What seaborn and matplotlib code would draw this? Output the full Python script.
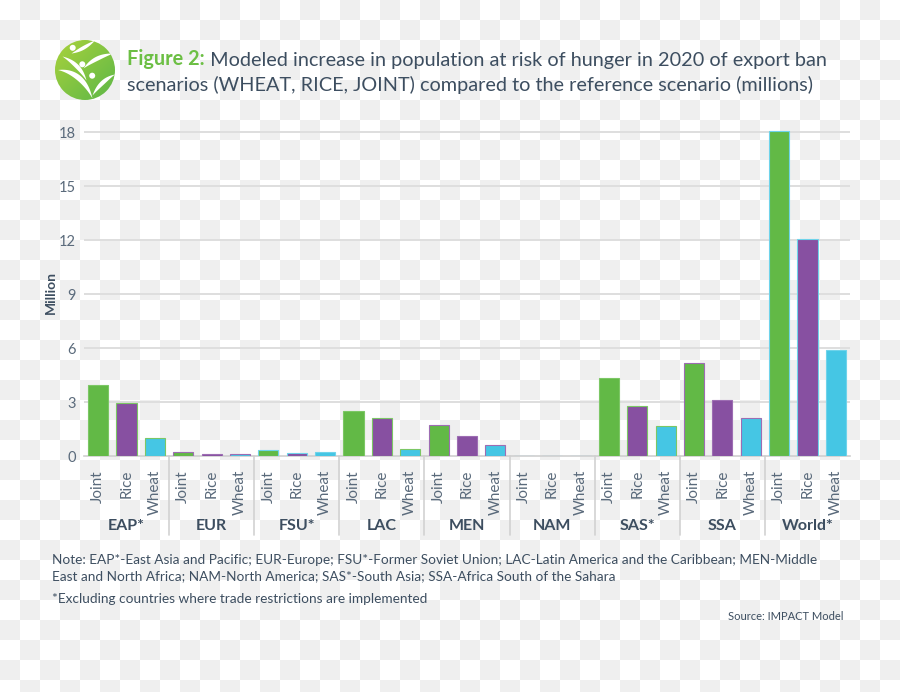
import matplotlib.pyplot as plt
import matplotlib.patches as mpatches
import matplotlib.transforms as mtransforms
from matplotlib.colors import LinearSegmentedColormap
import numpy as np
import pandas as pd
import seaborn as sns

REGIONS = ["EAP*", "EUR", "FSU*", "LAC", "MEN", "NAM", "SAS*", "SSA", "World*"]
SCENARIOS = ["Joint", "Rice", "Wheat"]
JOINT = [3.95, 0.22, 0.32, 2.48, 1.70, 0.0, 4.36, 5.19, 18.04]
RICE = [2.94, 0.13, 0.17, 2.10, 1.10, 0.0, 2.76, 3.09, 12.06]
WHEAT = [1.00, 0.10, 0.20, 0.37, 0.60, 0.0, 1.65, 2.09, 5.87]
Y_TICKS = [0, 3, 6, 9, 12, 15, 18]

COLORS = {"Joint": "#62b946", "Rice": "#8750a1", "Wheat": "#45c6e4"}
EDGES = {"Joint": "#7cc765", "Rice": "#9d6db3", "Wheat": "#6fd3ea"}
DARK = "#3d4e60"
MID = "#5a6a7b"

rows = []
for i, region in enumerate(REGIONS):
    for scen, vals in zip(SCENARIOS, [JOINT, RICE, WHEAT]):
        rows.append({"region": region, "scenario": scen,
                     "slot": f"{region}|{scen}", "value": vals[i]})
df = pd.DataFrame(rows)

sns.set_theme(style="white")
plt.rcParams["font.family"] = ["Lato", "DejaVu Sans"]

W, H = 900, 692
fig = plt.figure(figsize=(W / 100, H / 100), dpi=100)

# transparency checkerboard behind everything
yy, xx = np.mgrid[0:H, 0:W]
checker = np.where(((xx // 20) + (yy // 20)) % 2 == 1, 0xef, 0xff) / 255.0
fig.figimage(np.dstack([checker] * 3), xo=0, yo=0, origin="upper", zorder=-10)

y_top = 18.2
px_per = 18.0
ax_h = y_top * px_per
ax_w = 850 - 84
ax = fig.add_axes([84 / W, (H - 456) / H, ax_w / W, ax_h / H])
ax.set_facecolor("none")

sns.barplot(data=df, x="slot", y="value", hue="scenario", palette=COLORS,
            order=df["slot"], dodge=False, width=0.71, legend=False,
            saturation=1, linewidth=0.8, ax=ax, zorder=3)
for bar, scen in zip(ax.patches, df["scenario"]):
    bar.set_edgecolor(EDGES[scen])

ax.set_xlim(-0.5, len(df) - 0.5)
ax.set_ylim(0, y_top)
ax.set_yticks(Y_TICKS)
ax.set_yticklabels([str(t) for t in Y_TICKS], fontsize=10.5, color=MID)
ax.set_xticks(range(len(df)))
ax.set_xticklabels(df["scenario"], rotation=90, fontsize=11, color=MID)
ax.tick_params(axis="x", length=0, pad=10)
ax.tick_params(axis="y", length=0, pad=6)
ax.set_xlabel("")
ax.set_ylabel("Million", fontsize=10, fontweight="bold", color=DARK)
ax.yaxis.set_label_coords(-(84 - 57) / ax_w, 0.5)

for t in Y_TICKS[1:]:
    ax.axhline(t, color="#dedede", lw=1.4, zorder=1)
for side in ["top", "right", "left"]:
    ax.spines[side].set_visible(False)
ax.spines["bottom"].set_color("#cfcfcf")
ax.spines["bottom"].set_linewidth(1.2)

# region group labels and separators below the axis
trans = mtransforms.blended_transform_factory(ax.transData, ax.transAxes)
label_trans = trans + mtransforms.ScaledTranslation(0, -0.70, fig.dpi_scale_trans)
sep_len = 79 / ax_h
for g, region in enumerate(REGIONS):
    ax.text(3 * g + 1, 0, region, transform=label_trans, ha="center",
            va="center", fontsize=11.5, fontweight="bold", color=DARK)
    if g > 0:
        ax.plot([3 * g - 0.5] * 2, [0, -sep_len], transform=trans,
                color="#d2d2d2", lw=1.2, clip_on=False)

# title
t1 = fig.text(127 / W, 1 - 65 / H, "Figure 2:", fontsize=14.3,
              fontweight="bold", color="#6cbf44", va="baseline")
ax.annotate(" Modeled increase in population at risk of hunger in 2020 of export ban",
            xy=(1, 0), xycoords=t1, va="bottom", fontsize=14.3, color=DARK,
            annotation_clip=False)
fig.text(127 / W, 1 - 91 / H,
         "scenarios (WHEAT, RICE, JOINT) compared to the reference scenario (millions)",
         fontsize=14.3, color=DARK, va="baseline")

# notes
note_kw = dict(fontsize=9.8, color=DARK, va="baseline")
fig.text(52 / W, 1 - 564 / H,
         "Note: EAP*-East Asia and Pacific; EUR-Europe; FSU*-Former Soviet Union; "
         "LAC-Latin America and the Caribbean; MEN-Middle", **note_kw)
fig.text(52 / W, 1 - 580 / H,
         "East and North Africa; NAM-North America; SAS*-South Asia; "
         "SSA-Africa South of the Sahara", **note_kw)
fig.text(52 / W, 1 - 603 / H,
         "*Excluding countries where trade restrictions are implemented", **note_kw)
fig.text(843 / W, 1 - 620 / H, "Source: IMPACT Model", fontsize=8,
         color=DARK, ha="right", va="baseline")

# logo
lax = fig.add_axes([55 / W, (H - 100) / H, 60 / W, 60 / H])
lax.set_xlim(-1, 1)
lax.set_ylim(-1, 1)
lax.set_aspect("equal")
lax.axis("off")
gx, gy = np.meshgrid(np.linspace(-1, 1, 200), np.linspace(1, -1, 200))
grad = (gx - gy + 2) / 4
cmap = LinearSegmentedColormap.from_list("logo", ["#a9d23c", "#5db748"])
im = lax.imshow(grad, extent=(-1, 1, -1, 1), cmap=cmap, zorder=1)
circ = mpatches.Circle((0, 0), 1, transform=lax.transData)
im.set_clip_path(circ)


def leaf(p0, c, p1, w):
    t = np.linspace(0, 1, 40)
    p0, c, p1 = map(np.array, (p0, c, p1))
    pts = ((1 - t) ** 2)[:, None] * p0 + (2 * (1 - t) * t)[:, None] * c + (t ** 2)[:, None] * p1
    d = np.gradient(pts, axis=0)
    n = np.stack([-d[:, 1], d[:, 0]], axis=1)
    n /= np.linalg.norm(n, axis=1)[:, None]
    off = (w * np.sin(np.pi * t))[:, None] * n
    poly = np.vstack([pts + off, (pts - off)[::-1]])
    p = mpatches.Polygon(poly, closed=True, fc="white", ec="none", zorder=2)
    p.set_clip_path(circ)
    lax.add_patch(p)


leaf((-0.75, 0.45), (-0.2, 0.2), (0.05, -0.35), 0.07)
leaf((-0.45, 0.55), (-0.05, 0.7), (0.35, 1.0), 0.06)
leaf((-0.9, 0.0), (-0.1, -0.05), (0.25, -0.95), 0.09)
leaf((-0.05, 0.05), (0.35, 0.45), (0.95, 0.55), 0.07)
leaf((0.25, -0.85), (0.55, -0.35), (1.0, -0.15), 0.07)
for hx, hy in [(-0.41, 0.74), (-0.09, 0.19), (0.24, -0.19)]:
    lax.add_patch(mpatches.Circle((hx, hy), 0.1, fc="white", ec="none", zorder=3))

fig.savefig("out.png", dpi=100)
